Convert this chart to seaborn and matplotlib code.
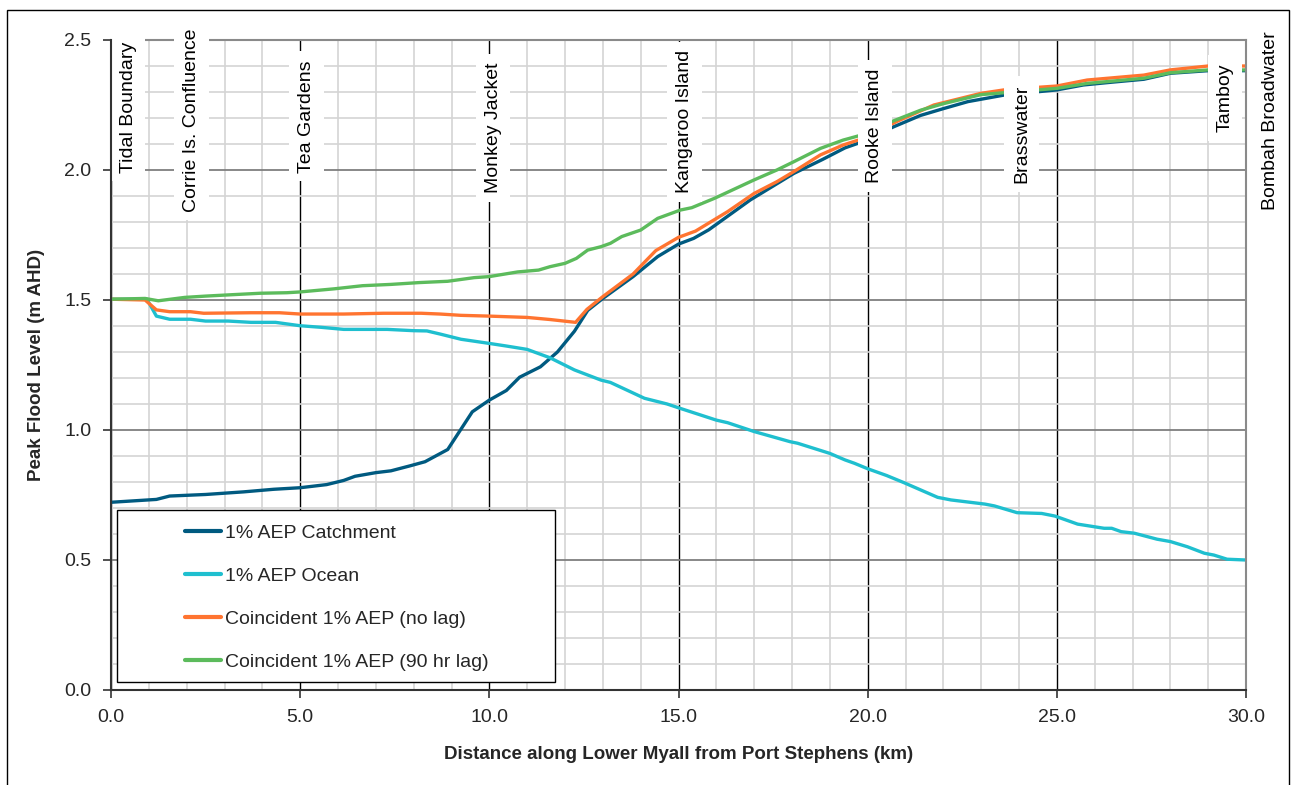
import matplotlib
matplotlib.use("Agg")
import matplotlib.pyplot as plt
from matplotlib.ticker import MultipleLocator, FormatStrFormatter
from matplotlib.patches import Rectangle
import pandas as pd
import seaborn as sns

# ---- peak flood level profiles along the Lower Myall ----
series_names = [
    "1% AEP Catchment",
    "1% AEP Ocean",
    "Coincident 1% AEP (no lag)",
    "Coincident 1% AEP (90 hr lag)",
]
series_colors = ["#005a80", "#1fbfcf", "#ff7430", "#5cbb5c"]

catchment_km = [0, 1.2, 1.55, 2.5, 3.5, 4.3, 5.0, 5.7, 6.15, 6.45, 7.0, 7.4, 7.9, 8.3,
                8.9, 9.55, 10.0, 10.45, 10.8, 11.35, 11.8, 12.25, 12.6, 13.0, 13.8,
                14.45, 15.0, 15.4, 15.8, 16.9, 18.05, 18.8, 19.4, 19.75, 20.7, 21.4,
                22.0, 22.65, 23.6, 24.5, 25.0, 25.7, 26.4, 27.3, 28.0, 29.0, 30.0]
catchment_lvl = [0.722, 0.733, 0.746, 0.752, 0.762, 0.772, 0.778, 0.790, 0.806, 0.822,
                 0.836, 0.843, 0.862, 0.878, 0.925, 1.070, 1.115, 1.152, 1.203, 1.243,
                 1.300, 1.380, 1.460, 1.506, 1.590, 1.667, 1.715, 1.737, 1.770, 1.885,
                 1.987, 2.040, 2.085, 2.103, 2.167, 2.210, 2.236, 2.263, 2.288, 2.301,
                 2.308, 2.327, 2.337, 2.349, 2.372, 2.382, 2.382]

ocean_km = [0, 0.95, 1.2, 1.55, 2.1, 2.5, 3.1, 3.7, 4.35, 5.0, 5.55, 6.15, 7.3, 8.0,
            8.35, 8.7, 9.25, 10.0, 10.45, 11.0, 11.6, 12.25, 12.95, 13.2, 14.1, 14.7,
            15.05, 16.0, 16.3, 17.0, 17.95, 18.15, 19.0, 19.4, 19.65, 20.0, 20.5,
            20.95, 21.85, 22.2, 23.1, 23.35, 23.95, 24.6, 24.95, 25.55, 26.25, 26.45,
            26.7, 27.05, 27.65, 28.0, 28.45, 28.9, 29.15, 29.5, 30.0]
ocean_lvl = [1.503, 1.503, 1.438, 1.426, 1.426, 1.419, 1.419, 1.414, 1.414, 1.401,
             1.395, 1.387, 1.387, 1.382, 1.381, 1.369, 1.349, 1.333, 1.323, 1.310,
             1.278, 1.231, 1.192, 1.183, 1.122, 1.100, 1.083, 1.038, 1.028, 0.994,
             0.955, 0.949, 0.910, 0.885, 0.872, 0.851, 0.825, 0.798, 0.741, 0.731,
             0.715, 0.708, 0.682, 0.679, 0.669, 0.638, 0.622, 0.622, 0.609, 0.603,
             0.580, 0.571, 0.551, 0.526, 0.519, 0.503, 0.500]

nolag_km = [0, 0.9, 1.2, 1.55, 2.1, 2.45, 3.7, 4.45, 5.0, 6.15, 7.2, 8.2, 8.7, 9.25,
            10.0, 11.0, 11.6, 12.28, 12.58, 13.0, 13.8, 14.4, 15.0, 15.45, 16.3, 17.0,
            17.6, 18.05, 18.75, 19.35, 19.75, 20.85, 21.75, 23.0, 23.6, 24.5, 25.0,
            25.8, 27.3, 28.0, 29.0, 30.0]
nolag_lvl = [1.503, 1.500, 1.462, 1.455, 1.455, 1.449, 1.451, 1.451, 1.446, 1.446,
             1.449, 1.449, 1.446, 1.441, 1.438, 1.433, 1.425, 1.414, 1.464, 1.513,
             1.600, 1.690, 1.741, 1.765, 1.840, 1.910, 1.955, 1.994, 2.058, 2.096,
             2.115, 2.192, 2.250, 2.295, 2.308, 2.318, 2.323, 2.346, 2.365, 2.385,
             2.400, 2.400]

lag90_km = [0, 0.9, 1.25, 1.95, 2.5, 3.15, 3.95, 4.65, 5.0, 5.9, 6.65, 7.4, 8.15, 8.9,
            9.6, 10.0, 10.75, 11.3, 11.6, 12.0, 12.3, 12.6, 12.95, 13.2, 13.5, 14.0,
            14.45, 15.05, 15.35, 15.95, 17.0, 17.6, 18.05, 18.75, 19.35, 19.75, 20.7,
            21.4, 22.0, 23.0, 24.5, 25.0, 25.8, 27.3, 28.0, 29.0, 30.0]
lag90_lvl = [1.503, 1.506, 1.497, 1.510, 1.515, 1.520, 1.526, 1.528, 1.531, 1.543,
             1.555, 1.560, 1.567, 1.572, 1.586, 1.590, 1.608, 1.615, 1.628, 1.641,
             1.660, 1.692, 1.705, 1.718, 1.744, 1.769, 1.814, 1.846, 1.855, 1.891,
             1.962, 2.000, 2.032, 2.083, 2.115, 2.131, 2.190, 2.230, 2.255, 2.290,
             2.308, 2.314, 2.333, 2.353, 2.374, 2.385, 2.385]

# ---- river locations (chainage in km) ----
location_names = ["Tidal Boundary", "Corrie Is. Confluence", "Tea Gardens",
                  "Monkey Jacket", "Kangaroo Island", "Rooke Island", "Brasswater",
                  "Tamboy", "Bombah Broadwater"]
location_km = [0.45, 2.13, 5.17, 10.1, 15.16, 20.19, 24.07, 29.45, 30.66]
location_label_base = [1.99, 1.84, 1.99, 1.91, 1.91, 1.95, 1.95, 2.146, 1.846]

x_ticks = [0, 5, 10, 15, 20, 25, 30]
y_ticks = [0.0, 0.5, 1.0, 1.5, 2.0, 2.5]

# ---- long-form table for seaborn ----
frames = []
for name, km, lvl in zip(series_names,
                         [catchment_km, ocean_km, nolag_km, lag90_km],
                         [catchment_lvl, ocean_lvl, nolag_lvl, lag90_lvl]):
    frames.append(pd.DataFrame({"km": km, "level": lvl, "series": name}))
df = pd.concat(frames, ignore_index=True)

sns.set_style("white")
plt.rcParams["font.family"] = ["Liberation Sans", "DejaVu Sans"]

fig = plt.figure(figsize=(12.98, 7.85), dpi=100)
ax = fig.add_axes([111 / 1298, 95 / 785, 1135 / 1298, 650 / 785])

sns.lineplot(data=df, x="km", y="level", hue="series", hue_order=series_names,
             palette=series_colors, estimator=None, sort=False, linewidth=2.4,
             ax=ax, zorder=2)

ax.set_xlim(0, 30)
ax.set_ylim(0, 2.5)
ax.set_xticks(x_ticks)
ax.set_yticks(y_ticks)
ax.xaxis.set_major_formatter(FormatStrFormatter("%.1f"))
ax.yaxis.set_major_formatter(FormatStrFormatter("%.1f"))
ax.xaxis.set_minor_locator(MultipleLocator(1))
ax.yaxis.set_minor_locator(MultipleLocator(0.1))

ax.set_axisbelow(True)
ax.grid(which="minor", axis="both", color="#d4d4d4", linewidth=1.2)
ax.grid(which="major", axis="y", color="#7f7f7f", linewidth=1.3)
ax.grid(which="major", axis="x", color="#000000", linewidth=1.0)

ax.tick_params(axis="both", which="major", direction="out", length=6, width=1.2,
               color="#333333", labelsize=14, pad=8, bottom=True, left=True)
ax.tick_params(axis="both", which="minor", length=0)

for side in ["left", "bottom"]:
    ax.spines[side].set_color("#333333")
    ax.spines[side].set_linewidth(1.5)
for side in ["top", "right"]:
    ax.spines[side].set_color("#8a8a8a")
    ax.spines[side].set_linewidth(1.5)
ax.spines["left"].set_zorder(3.5)

ax.set_xlabel("Distance along Lower Myall from Port Stephens (km)",
              fontsize=13.5, fontweight="bold")
ax.set_ylabel("Peak Flood Level (m AHD)", fontsize=13.5, fontweight="bold")
ax.xaxis.set_label_coords(0.5, -0.099)
ax.xaxis.label.set_verticalalignment("center")
ax.yaxis.set_label_coords(-0.0652, 0.5)
ax.yaxis.label.set_verticalalignment("center")

# location markers as rotated, boxed labels
for name, km, base in zip(location_names, location_km, location_label_base):
    boxed = km <= 30
    ax.text(km, base, name, rotation=90, ha="center", va="bottom", fontsize=14,
            color="black", zorder=3, clip_on=False,
            bbox=dict(boxstyle="square,pad=0.45", fc="white", ec="none") if boxed else None)

# legend with a framed white panel
leg = ax.get_legend()
handles = leg.legend_handles
labels = [t.get_text() for t in leg.get_texts()]
leg.remove()
for h in handles:
    h.set_linewidth(3)
ax.add_patch(Rectangle((0.0053, 0.0123), 0.3859, 0.2646, transform=ax.transAxes,
                       facecolor="white", edgecolor="black", linewidth=1.0,
                       zorder=4.5, clip_on=False))
new_leg = ax.legend(handles, labels, loc="upper left", bbox_to_anchor=(0.0652, 0.2554),
                    frameon=False, borderpad=0, handlelength=1.85, handletextpad=0.2,
                    labelspacing=1.31, fontsize=14, borderaxespad=0)
new_leg.set_zorder(5)

# outer chart border
fig.patches.append(Rectangle((7 / 1298, -0.01), 1282 / 1298, 775 / 785 + 0.01,
                             transform=fig.transFigure, fill=False,
                             edgecolor="black", linewidth=1.0))

fig.savefig("out.png", dpi=100)
